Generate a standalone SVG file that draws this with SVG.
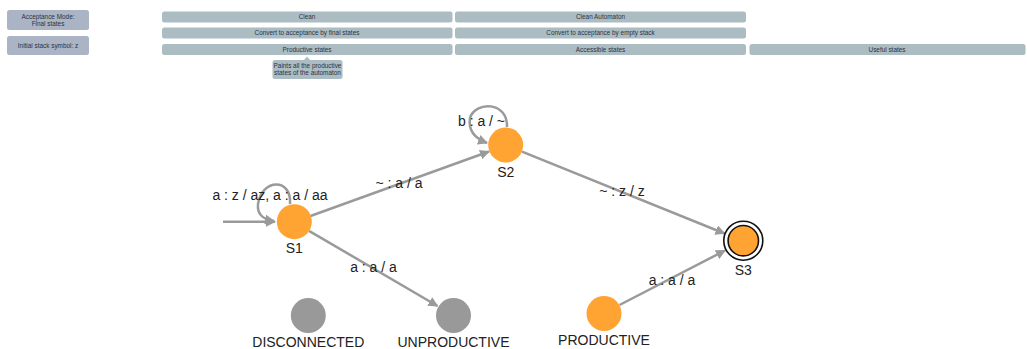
<svg xmlns="http://www.w3.org/2000/svg" width="1027" height="349" viewBox="0 0 1027 349">
  <style>
    .side { fill: #aab4c4; }
    .btn { fill: #acbcc3; }
    .btxt { font-family: "Liberation Sans", Arial, sans-serif; font-size: 6.4px; fill: #2b3340; text-anchor: middle; }
    .edge { fill: none; stroke: #9a9a9a; stroke-width: 2.5; }
    .lbl { font-family: "Liberation Sans", Arial, sans-serif; font-size: 14px; fill: #222; text-anchor: middle; }
    .on { fill: #ffa333; }
    .off { fill: #999999; }
  </style>
  <defs>
    <marker id="arrow" viewBox="0 0 10 10" refX="9" refY="5" markerWidth="4" markerHeight="4" orient="auto" markerUnits="strokeWidth">
      <path d="M0,0 L10,5 L0,10 z" fill="#9a9a9a"/>
    </marker>
  </defs>
  <rect width="1027" height="349" fill="#ffffff"/>

  <!-- settings panel -->
  <g id="acceptance-mode">
    <rect class="side" x="7" y="10" width="82" height="20" rx="2.5"/>
    <text class="btxt" x="48" y="18.5">Acceptance Mode:</text>
    <text class="btxt" x="48" y="26">Final states</text>
  </g>
  <g id="initial-symbol">
    <rect class="side" x="7" y="36" width="82" height="19" rx="2.5"/>
    <text class="btxt" x="48" y="47.5">Initial stack symbol: z</text>
  </g>

  <!-- toolbar -->
  <g id="btn-clean">
    <rect class="btn" x="162" y="11.5" width="290.5" height="11" rx="2.5"/>
    <text class="btxt" x="307" y="19.3">Clean</text>
  </g>
  <g id="btn-clean-automaton">
    <rect class="btn" x="455" y="11.5" width="291" height="11" rx="2.5"/>
    <text class="btxt" x="600.5" y="19.3">Clean Automaton</text>
  </g>
  <g id="btn-final-states">
    <rect class="btn" x="162" y="27.5" width="290.5" height="11" rx="2.5"/>
    <text class="btxt" x="307" y="35.3">Convert to acceptance by final states</text>
  </g>
  <g id="btn-empty-stack">
    <rect class="btn" x="455" y="27.5" width="291" height="11" rx="2.5"/>
    <text class="btxt" x="600.5" y="35.3">Convert to acceptance by empty stack</text>
  </g>
  <g id="btn-productive">
    <rect class="btn" x="162" y="44" width="290.5" height="11" rx="2.5"/>
    <text class="btxt" x="307" y="51.8">Productive states</text>
  </g>
  <g id="btn-accessible">
    <rect class="btn" x="455" y="44" width="291" height="11" rx="2.5"/>
    <text class="btxt" x="600.5" y="51.8">Accessible states</text>
  </g>
  <g id="btn-useful">
    <rect class="btn" x="749.5" y="44" width="276" height="11" rx="2.5"/>
    <text class="btxt" x="887" y="51.8">Useful states</text>
  </g>
  <g id="tooltip">
    <path class="btn" d="M304,60 L307,56.5 L310,60 z"/>
    <rect class="btn" x="272.5" y="60" width="70" height="19" rx="2.5"/>
    <text class="btxt" x="307.5" y="67.5">Paints all the productive</text>
    <text class="btxt" x="307.5" y="75">states of the automaton</text>
  </g>

  <!-- transitions -->
  <g id="connectors">
    <path class="edge" d="M223,221.7 L275,221.7" marker-end="url(#arrow)"/>
    <path class="edge" d="M290,204 C292,178 262,178 258,204 C257,214 262,219 274,221" marker-end="url(#arrow)"/>
    <path class="edge" d="M507,127 C508,101 475,101 470,118 C468,130 474,138 487,143" marker-end="url(#arrow)"/>
    <path class="edge" d="M310.5,216 L489,151.5" marker-end="url(#arrow)"/>
    <path class="edge" d="M522,151.6 L724.5,233.5" marker-end="url(#arrow)"/>
    <path class="edge" d="M619.5,305 L725,250.5" marker-end="url(#arrow)"/>
    <path class="edge" d="M309,230.8 L437.5,306" marker-end="url(#arrow)"/>
    <text class="lbl" x="270" y="200">a : z / az, a : a / aa</text>
    <text class="lbl" x="481.5" y="125.5">b : a / ~</text>
    <text class="lbl" x="399" y="188">~ : a / a</text>
    <text class="lbl" x="622" y="196">~ : z / z</text>
    <text class="lbl" x="672" y="285">a : a / a</text>
    <text class="lbl" x="373.5" y="272">a : a / a</text>
  </g>

  <!-- states -->
  <g id="S1">
    <circle class="on" cx="294.3" cy="221.7" r="17.5"/>
    <text class="lbl" x="294.3" y="253">S1</text>
  </g>
  <g id="S2">
    <circle class="on" cx="505.7" cy="145" r="17.5"/>
    <text class="lbl" x="505.7" y="177">S2</text>
  </g>
  <g id="S3">
    <circle cx="743.3" cy="240.7" r="19.5" fill="#ffffff" stroke="#111" stroke-width="1.6"/>
    <circle class="on" cx="743.3" cy="240.7" r="15.2" stroke="#111" stroke-width="1.6"/>
    <text class="lbl" x="743.3" y="275">S3</text>
  </g>

  <!-- legend -->
  <g id="legend-disconnected">
    <circle class="off" cx="308.3" cy="315.5" r="17.5"/>
    <text class="lbl" x="308.3" y="346.5">DISCONNECTED</text>
  </g>
  <g id="legend-unproductive">
    <circle class="off" cx="453.5" cy="315.5" r="17.5"/>
    <text class="lbl" x="453.5" y="346.5">UNPRODUCTIVE</text>
  </g>
  <g id="legend-productive">
    <circle class="on" cx="604" cy="313.5" r="17.5"/>
    <text class="lbl" x="604" y="345">PRODUCTIVE</text>
  </g>
</svg>
